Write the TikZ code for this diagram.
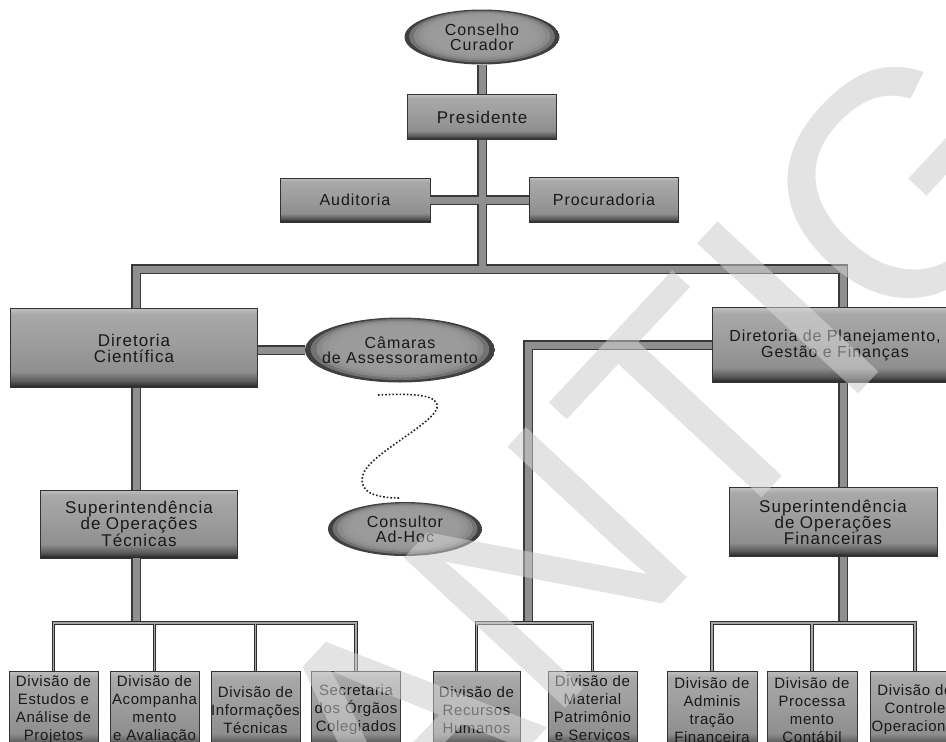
\documentclass[tikz,border=0pt]{standalone}
\usepackage{fontspec}
\setmainfont{Liberation Sans}
\newfontfamily\fA[LetterSpace=6]{Liberation Sans}
\newfontfamily\fB[LetterSpace=4]{Liberation Sans}
\usetikzlibrary{shapes.geometric}
\pgfdeclareverticalshading{boxsh}{100bp}{color(0bp)=(gray!25!black); color(25bp)=(gray!25!black); color(29bp)=(gray!70!black); color(35bp)=(gray!88); color(55bp)=(gray!76); color(71bp)=(gray!68); color(75bp)=(gray!50); color(100bp)=(gray!50)}
\tikzset{
  orgbox/.style={rectangle, shading=boxsh, draw=gray!40!black, line width=0.5pt,
    inner sep=0pt, align=center, text=black!90},
  bigtxt/.style={font=\fA\fontsize{16}{16}\selectfont},
  smalltxt/.style={font=\fB\fontsize{15}{18}\selectfont},
  divbox/.style={orgbox, smalltxt, text width=89pt, minimum height=78pt},
  orgell/.style 2 args={ellipse, inner sep=0pt, minimum width=#1pt, minimum height=#2pt,
    path picture={
      \foreach \k in {0,...,11}{
        \pgfmathsetmacro\s{1-0.06*\k}
        \pgfmathsetmacro\d{39+36*exp(-0.8*\k)}
        \fill[black!\d] ([yshift={(1-\s)*#2*0.14pt}]path picture bounding box.center)
          ellipse [x radius={\s*#1*0.5pt}, y radius={\s*#2*0.5pt}];
      }
    }},
  elltxt/.style={align=center, text=black!90, font=\fA\fontsize{16}{15}\selectfont},
  busout/.style={draw=gray!45!black, line width=10pt},
  busin/.style={draw=gray!88, line width=7pt},
  combout/.style={draw=gray!35!black, line width=3.2pt},
  combin/.style={draw=gray!70, line width=1.4pt},
  wmback/.style={text=gray!22, font=\fontsize{320}{320}\selectfont},
  wmfront/.style={text=gray!22, opacity=0.45, font=\fontsize{320}{320}\selectfont}
}
\begin{document}
\begin{tikzpicture}[x=1pt,y=-1pt]
\useasboundingbox (0,0) rectangle (946,742);
\clip (0,0) rectangle (946,742);
% watermark (behind)
\node[wmback, rotate=47] (wmk) at (740,360) {ANTIGO};
% junction coordinates
\coordinate (j0) at (482,269);
\coordinate (jl) at (136,269);
\coordinate (jr) at (843,269);
\coordinate (c1) at (136,623);
\coordinate (c2) at (528,623);
\coordinate (c3) at (843,623);
% nodes
\node[orgell={155}{55}] (cc) at (482,37) {};
\node[elltxt] at (cc.center) {Conselho\\Curador};
\node[orgbox, bigtxt, text width=149pt, minimum height=45pt] (pres) at (482,117) {\fontsize{17}{17}\selectfont Presidente};
\node[orgbox, bigtxt, text width=150pt, minimum height=44pt] (aud) at (355,200) {Auditoria};
\node[orgbox, bigtxt, text width=149pt, minimum height=45pt] (proc) at (604,200) {Procuradoria};
\node[orgbox, bigtxt, text width=247pt, minimum height=79pt] (dc) at (134,348) {\fontsize{17}{16}\selectfont Diretoria\\Científica};
\node[orgell={190}{65}] (cam) at (400,350) {};
\node[elltxt] at (cam.center) {Câmaras\\de Assessoramento};
\node[orgell={154}{54}] (cons) at (405,529) {};
\node[elltxt] at (cons.center) {Consultor\\Ad-Hoc};
\node[orgbox, bigtxt, text width=197pt, minimum height=68pt] (sot) at (139,524) {\fontsize{17}{16}\selectfont Superintendência\\de Operações\\Técnicas};
\node[orgbox, bigtxt, text width=246pt, minimum height=75pt] (dpgf) at (835,345) {Diretoria de Planejamento,\\Gestão e Finanças};
\node[orgbox, bigtxt, text width=208pt, minimum height=69pt] (sof) at (833,522) {\fontsize{17}{16}\selectfont Superintendência\\de Operações\\Financeiras};
% bottom divisions
\node[divbox] (b1) at (53.5,710) {Divisão de\\Estudos e\\Análise de\\Projetos};
\node[divbox] (b2) at (154.5,710) {Divisão de\\Acompanha\\mento\\e Avaliação};
\node[divbox] (b3) at (255.5,710) {Divisão de\\Informações\\Técnicas};
\node[divbox] (b4) at (356,710) {Secretaria\\dos Órgãos\\Colegiados};
\node[divbox, text width=87pt] (b5) at (476.5,710) {Divisão de\\Recursos\\Humanos};
\node[divbox] (b6) at (592.5,710) {Divisão de\\Material\\Patrimônio\\e Serviços};
\node[divbox, text width=90pt] (b7) at (712,710) {Divisão de\\Adminis\\tração\\Financeira};
\node[divbox, text width=90pt] (b8) at (812,710) {Divisão de\\Processa\\mento\\Contábil};
\node[divbox, text width=90pt] (b9) at (915,710) {Divisão de\\Controle\\Operacional};
% connectors
\foreach \st in {busout,busin}{
  \draw[\st] (cc.south) -- (pres.north);
  \draw[\st] (pres.south) -- (j0);
  \draw[\st] (aud.east) -- (proc.west);
  \draw[\st] (jl |- dc.north) -- (jl) -- (jr) -- (jr |- dpgf.north);
  \draw[\st] (dc.east |- cam.west) -- (cam.west);
  \draw[\st] (jl |- dc.south) -- (jl |- sot.north);
  \draw[\st] (jl |- sot.south) -- (c1);
  \draw[\st] (dpgf.west) -- (dpgf.west -| c2) -- (c2);
  \draw[\st] (jr |- dpgf.south) -- (jr |- sof.north);
  \draw[\st] (jr |- sof.south) -- (c3);
}
\foreach \st in {combout,combin}{
  \draw[\st] (b1.north) -- (b1.north |- c1) -- (b4.north |- c1) -- (b4.north);
  \draw[\st] (b2.north) -- (b2.north |- c1);
  \draw[\st] (b3.north) -- (b3.north |- c1);
  \draw[\st] (b5.north) -- (b5.north |- c2) -- (b6.north |- c2) -- (b6.north);
  \draw[\st] (b7.north) -- (b7.north |- c3) -- (b9.north |- c3) -- (b9.north);
  \draw[\st] (b8.north) -- (b8.north |- c3);
}
% dotted link
\coordinate (d1) at (378,395);
\coordinate (d2) at (437,408);
\coordinate (d3) at (363,475);
\coordinate (d4) at (400,498);
\draw[dotted, line width=1.6pt, gray!25!black] (d1) .. controls (415,393) and (440,395) .. (d2)
  .. controls (432,425) and (368,455) .. (d3) .. controls (358,492) and (375,498) .. (d4);
% watermark (front, translucent)
\node[wmfront, rotate=47] (wmk2) at (wmk.center) {ANTIGO};
\end{tikzpicture}
\end{document}
